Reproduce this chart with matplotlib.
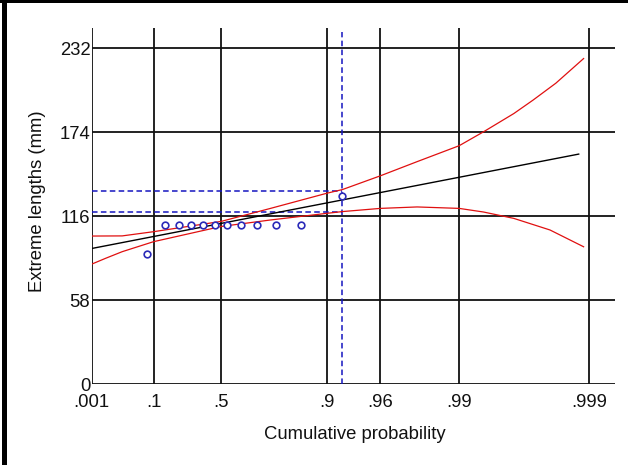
import numpy as np
import matplotlib
matplotlib.use("Agg")
import matplotlib.pyplot as plt
from matplotlib.patches import Rectangle

plt.rcParams['font.family'] = ['Liberation Sans', 'DejaVu Sans']
plt.rcParams['lines.scale_dashes'] = False

# observed extremes, plotted at their cumulative probability
probs = [0.077, 0.154, 0.231, 0.308, 0.385, 0.462, 0.538, 0.615, 0.692, 0.769, 0.846, 0.923]
lengths = [90, 110, 110, 110, 110, 110, 110, 110, 110, 110, 110, 130]

# fitted Gumbel line (straight on this paper)
fit_p = [0.001, 0.9988]
fit_y = [93.8, 159]

# confidence bounds
upper_p = [0.001, 0.018, 0.1, 0.5, 0.75, 0.9, 0.923, 0.96, 0.979, 0.99, 0.9935, 0.9962, 0.9973, 0.9982, 0.9989]
upper_y = [102.4, 102.5, 105.4, 112.5, 121.5, 132, 134.5, 144, 153.8, 164.8, 174.4, 187, 196.3, 208, 225]
lower_p = [0.001, 0.0045, 0.018, 0.1, 0.5, 0.75, 0.9, 0.923, 0.96, 0.979, 0.99, 0.9935, 0.9962, 0.998, 0.9989]
lower_y = [83, 87, 91.6, 98.5, 109, 113.5, 118.1, 119.3, 121.5, 122.5, 121.5, 119, 114.6, 106.6, 95]

# reading at the largest observation
ci_p = 0.923
ci_low, ci_high = 118.8, 133.5

prob_ticks = [0.001, 0.1, 0.5, 0.9, 0.96, 0.99, 0.999]
prob_labels = ['.001', '.1', '.5', '.9', '.96', '.99', '.999']
len_ticks = [0, 58, 116, 174, 232]


def gumbel(p):
    p = np.clip(np.asarray(p, dtype=float), 1e-12, 1 - 1e-12)
    return -np.log(-np.log(p))


def gumbel_inv(v):
    return np.exp(-np.exp(-np.asarray(v, dtype=float)))


fig = plt.figure(figsize=(6.28, 4.65), dpi=100)
ax = fig.add_axes([91.7 / 628, (465 - 384.3) / 465, 523.3 / 628, 356.3 / 465])
ax.set_xscale('function', functions=(gumbel, gumbel_inv))

for p in prob_ticks:
    ax.axvline(p, color='#111111', lw=1.3, zorder=1)
for y in len_ticks:
    ax.axhline(y, color='#111111', lw=1.3, zorder=1)

ax.plot(upper_p, upper_y, color='#e01010', lw=0.9, zorder=3)
ax.plot(lower_p, lower_y, color='#e01010', lw=0.9, zorder=3)
ax.plot(fit_p, fit_y, color='black', lw=1.0, zorder=3)

dash = (4, 2.4)
ax.plot([0.001, ci_p], [ci_high, ci_high], color='#1515c0', lw=1.1, dashes=dash, zorder=2)
ax.plot([0.001, ci_p], [ci_low, ci_low], color='#1515c0', lw=1.1, dashes=dash, zorder=2)
ax.plot([ci_p, ci_p], [0, 243.5], color='#1515c0', lw=1.1, dashes=dash, zorder=2)

ax.plot(probs, lengths, 'o', ms=4.8, mfc='white', mec='#2a2ab8', mew=1.2, zorder=4)

ax.set_xlim(0.001, gumbel_inv(7.37))
ax.set_ylim(0, 246.1)
ax.set_xticks(prob_ticks)
ax.set_xticklabels(prob_labels)
ax.xaxis.set_minor_locator(plt.NullLocator())
ax.set_yticks(len_ticks)
ax.tick_params(axis='x', length=0, pad=7, labelsize=13.3, colors='#111111')
ax.tick_params(axis='y', length=0, pad=1, labelsize=13.3, colors='#111111')
for s in ax.spines.values():
    s.set_visible(False)

ax.set_xlabel('Cumulative probability', fontsize=13.3, color='#111111')
ax.xaxis.set_label_coords(0.503, -0.117)
ax.set_ylabel('Extreme lengths (mm)', fontsize=13.3, color='#111111')
ax.yaxis.set_label_coords(-0.087, 0.514)

# window frame bits
fig.add_artist(Rectangle((1.5 / 628, 0), 5.5 / 628, 1, transform=fig.transFigure,
                         color='black', lw=0))
fig.add_artist(Rectangle((0, 1 - 3 / 465), 1, 3 / 465, transform=fig.transFigure,
                         color='black', lw=0))

fig.savefig('out.png', dpi=100)
